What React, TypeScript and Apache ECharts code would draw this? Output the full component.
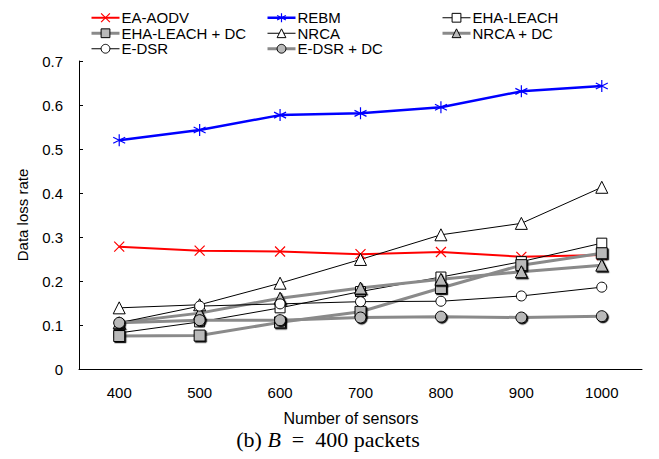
import React, { useEffect, useRef } from "react";
import * as echarts from "echarts";

const categories = ["400", "500", "600", "700", "800", "900", "1000"];
const eaAodv = [0.278, 0.269, 0.267, 0.261, 0.266, 0.255, 0.259];
const rebm = [0.52, 0.543, 0.577, 0.581, 0.595, 0.631, 0.643];
const ehaLeach = [0.082, 0.107, 0.139, 0.176, 0.209, 0.244, 0.286];
const ehaLeachDc = [0.075, 0.076, 0.106, 0.13, 0.184, 0.236, 0.263];
const nrca = [0.139, 0.146, 0.195, 0.249, 0.305, 0.331, 0.413];
const nrcaDc = [0.105, 0.127, 0.161, 0.184, 0.204, 0.221, 0.236];
const eDsr = [0.105, 0.143, 0.148, 0.153, 0.154, 0.166, 0.186];
const eDsrDc = [0.105, 0.111, 0.111, 0.117, 0.119, 0.117, 0.12];

const FONT = "Liberation Sans, Arial, sans-serif";
const GRAY_LINE = "#8a8a8a";
const GRAY_FILL = "#b9b9b9";
const ASTERISK = "path://M0,-10L0,10M-8.66,-5L8.66,5M-8.66,5L8.66,-5";
const CROSS = "path://M-10,-10L10,10M-10,10L10,-10";

export default function App() {
  const ref = useRef<HTMLDivElement>(null);
  useEffect(() => {
    if (!ref.current) return;
    const chart = echarts.init(ref.current, undefined, { renderer: "svg" });
    const shadow = { shadowColor: "rgba(0,0,0,0.9)", shadowOffsetX: 1.2, shadowOffsetY: 1.2, shadowBlur: 0 };
    const thin = (name: string, data: number[], symbol: string, size: number) => ({
      name, type: "line", data, symbol, symbolSize: size, showAllSymbol: true,
      lineStyle: { color: "#000", width: 1 },
      itemStyle: { color: "#fff", borderColor: "#000", borderWidth: 1 },
    });
    const thick = (name: string, data: number[], symbol: string, size: number) => ({
      name, type: "line", data, symbol, symbolSize: size, showAllSymbol: true,
      lineStyle: { color: GRAY_LINE, width: 3 },
      itemStyle: { color: GRAY_FILL, borderColor: "#000", borderWidth: 1, ...shadow },
    });
    const thinItem = (name: string) => ({
      name, lineStyle: { width: 1, color: "#000" },
      itemStyle: { color: "#fff", borderColor: "#000", borderWidth: 1 },
    });
    const thickItem = (name: string) => ({
      name, lineStyle: { width: 3, color: GRAY_LINE },
      itemStyle: { color: GRAY_FILL, borderColor: "#000", borderWidth: 1, shadowBlur: 0, shadowOffsetX: 0, shadowOffsetY: 0, shadowColor: "transparent" },
    });
    const legendBase = {
      orient: "vertical", itemWidth: 28, itemHeight: 11, itemGap: 0,
      textStyle: { fontFamily: FONT, fontSize: 15, lineHeight: 15.5, color: "#000", padding: [0, 0, 0, -3] },
      selectedMode: false,
    };
    chart.setOption({
      animation: false,
      backgroundColor: "#fff",
      grid: { left: 79, right: 17, top: 61, bottom: 90 },
      legend: [
        {
          ...legendBase, left: 85, top: 5,
          data: [
            { name: "EA-AODV", lineStyle: { width: 2, color: "#ff0000" }, itemStyle: { color: "#ff0000", borderColor: "#ff0000", borderWidth: 1.2 } },
            thickItem("EHA-LEACH + DC"),
            thinItem("E-DSR"),
          ],
        },
        {
          ...legendBase, left: 261, top: 5,
          data: [
            { name: "REBM", lineStyle: { width: 2.5, color: "#0000ff" }, itemStyle: { color: "#0000ff", borderColor: "#0000ff", borderWidth: 1.2 } },
            thinItem("NRCA"),
            thickItem("E-DSR + DC"),
          ],
        },
        { ...legendBase, left: 436, top: 5, data: [thinItem("EHA-LEACH"), thickItem("NRCA + DC")] },
      ],
      xAxis: {
        type: "category", data: categories, boundaryGap: true,
        axisLine: { lineStyle: { color: "#000", width: 1 } },
        axisTick: { inside: true, length: 4, lineStyle: { color: "#000" } },
        axisLabel: { fontFamily: FONT, fontSize: 15, color: "#000", margin: 16 },
        splitLine: { show: false },
      },
      yAxis: {
        type: "value", min: 0, max: 0.7, interval: 0.1,
        axisLine: { show: true, lineStyle: { color: "#000", width: 1 } },
        axisTick: { show: true, inside: true, length: 4, lineStyle: { color: "#000" } },
        axisLabel: { fontFamily: FONT, fontSize: 15, color: "#000", margin: 16, formatter: (v: number) => (v === 0 ? "0" : v.toFixed(1)) },
        splitLine: { show: false },
      },
      graphic: [
        { type: "text", x: 22, y: 215, rotation: Math.PI / 2, style: { text: "Data loss rate", font: `15px ${FONT}`, fill: "#000", textAlign: "center", textVerticalAlign: "middle" } },
        { type: "text", x: 351, y: 418, style: { text: "Number of sensors", font: `16px ${FONT}`, fill: "#000", textAlign: "center", textVerticalAlign: "middle" } },
        {
          type: "text", x: 328, y: 439,
          style: {
            text: "{n|(b) }{i|B}{n|  =  400 packets}",
            textAlign: "center", textVerticalAlign: "middle",
            rich: {
              n: { fontFamily: "Liberation Serif, DejaVu Serif, serif", fontSize: 22, fill: "#000" },
              i: { fontFamily: "Liberation Serif, DejaVu Serif, serif", fontSize: 22, fontStyle: "italic", fill: "#000" },
            },
          },
        },
      ],
      series: [
        {
          name: "EA-AODV", type: "line", data: eaAodv, symbol: CROSS, symbolSize: 10,
          lineStyle: { color: "#ff0000", width: 2 },
          itemStyle: { color: "#ff0000", borderColor: "#ff0000", borderWidth: 1.2 },
        },
        {
          name: "REBM", type: "line", data: rebm, symbol: ASTERISK, symbolSize: 12,
          lineStyle: { color: "#0000ff", width: 2.5 },
          itemStyle: { color: "#0000ff", borderColor: "#0000ff", borderWidth: 1.2 },
        },
        thin("EHA-LEACH", ehaLeach, "rect", 10),
        thick("EHA-LEACH + DC", ehaLeachDc, "rect", 11),
        thin("NRCA", nrca, "triangle", 12),
        thick("NRCA + DC", nrcaDc, "triangle", 12),
        thin("E-DSR", eDsr, "circle", 10),
        thick("E-DSR + DC", eDsrDc, "circle", 11),
      ],
    });
    return () => chart.dispose();
  }, []);
  return <div ref={ref} style={{ width: 659, height: 459, position: "absolute", left: 0, top: 0 }} />;
}
